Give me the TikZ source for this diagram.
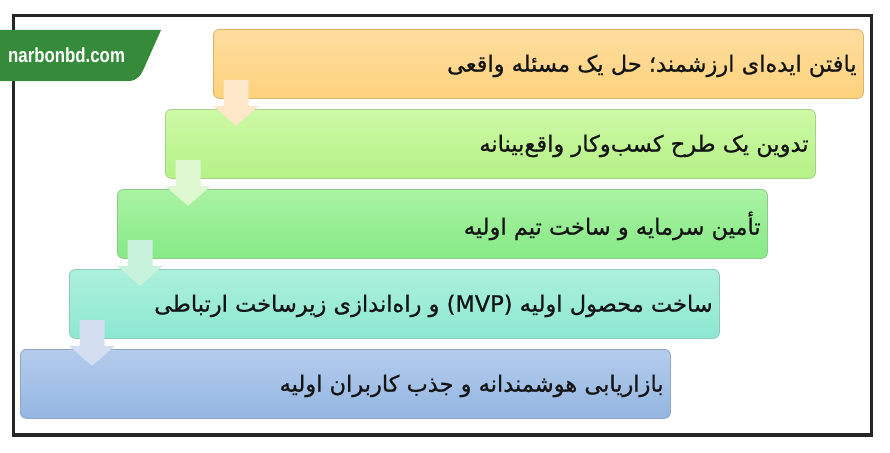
\documentclass[tikz,border=0pt]{standalone}
\usepackage{fontspec}
\TeXXeTstate=1
\newfontfamily\fa[Script=Arabic,FakeBold=0.8]{DejaVu Sans}
\newfontfamily\labelfont[FakeStretch=0.82]{Liberation Sans}
\definecolor{framec}{HTML}{262626}
\definecolor{labelc}{HTML}{358B3A}
\definecolor{oT}{HTML}{FEDD9F}\definecolor{oB}{HTML}{FDD27C}\definecolor{oD}{HTML}{D9B371}
\definecolor{lgT}{HTML}{CDF9A5}\definecolor{lgB}{HTML}{B5F287}\definecolor{lgD}{HTML}{A9CF8F}
\definecolor{gT}{HTML}{A9F3A3}\definecolor{gB}{HTML}{86EA85}\definecolor{gD}{HTML}{8FC98D}
\definecolor{tT}{HTML}{ACF0DC}\definecolor{tB}{HTML}{8DE8D1}\definecolor{tD}{HTML}{93C7B9}
\definecolor{bT}{HTML}{B5CCEC}\definecolor{bB}{HTML}{93B6E2}\definecolor{bD}{HTML}{8FA6C4}
\definecolor{a1}{HTML}{FDE7C9}\definecolor{a2}{HTML}{E0F8D1}\definecolor{a3}{HTML}{C9F2DC}\definecolor{a4}{HTML}{D3DFF0}
\tikzset{
  stepbox/.style={rectangle, rounded corners=6pt, minimum width=650pt, minimum height=69pt,
    inner sep=0pt, anchor=north west, line width=0.8pt},
  steptext/.style={anchor=east, inner sep=0pt, text=black!92, font=\fa\fontsize{22.5}{26}\selectfont},
  blockarrow/.style={draw=none}
}
\begin{document}
\begin{tikzpicture}[x=1pt,y=-1pt]
\useasboundingbox (0,0) rectangle (890,452);
\fill[white] (0,0) rectangle (890,452);
\draw[framec, line width=3.4pt] (13.5,15.5) rectangle (871.5,435);

\node[stepbox, top color=oT, bottom color=oB, draw=oD] (b1) at (213,29) {};
\node[stepbox, top color=lgT, bottom color=lgB, draw=lgD] (b2) at (165,109) {};
\node[stepbox, top color=gT, bottom color=gB, draw=gD] (b3) at (117,189) {};
\node[stepbox, top color=tT, bottom color=tB, draw=tD] (b4) at (69,269) {};
\node[stepbox, top color=bT, bottom color=bB, draw=bD] (b5) at (20,349) {};

\node[steptext] (t1) at ([xshift=-7pt,yshift=-2pt]b1.east) {\beginR یافتن ایده‌ای ارزشمند؛ حل یک مسئله واقعی\endR};
\node[steptext] (t2) at ([xshift=-7pt,yshift=-2pt]b2.east) {\beginR تدوین یک طرح کسب‌وکار واقع‌بینانه\endR};
\node[steptext] (t3) at ([xshift=-7pt,yshift=-2pt]b3.east) {\beginR تأمین سرمایه و ساخت تیم اولیه\endR};
\node[steptext] (t4) at ([xshift=-7pt,yshift=-2pt]b4.east) {\beginR ساخت محصول اولیه \beginL(MVP)\endL{} و راه‌اندازی زیرساخت ارتباطی\endR};
\node[steptext] (t5) at ([xshift=-7pt,yshift=-2pt]b5.east) {\beginR بازاریابی هوشمندانه و جذب کاربران اولیه\endR};

\foreach \i/\j/\c in {1/2/a1,2/3/a2,3/4/a3,4/5/a4}{
  \coordinate (ar\i) at ([xshift=23pt]b\i.south west);
  \fill[\c] (ar\i) ++(-12.5,-19) -- ++(25,0) -- ++(0,26) -- ++(10.5,0) -- ++(-23,20) -- ++(-23,-20) -- ++(10.5,0) -- cycle;
}

\fill[labelc] (0,30) -- (161,30) -- (145,66) .. controls (141,76) and (137,81) .. (128,81) -- (0,81) -- cycle;
\node[anchor=base west, inner sep=0pt, text=white, font=\labelfont\bfseries\fontsize{20.5}{22}\selectfont] (lab) at (8,63) {narbonbd.com};
\end{tikzpicture}
\end{document}
